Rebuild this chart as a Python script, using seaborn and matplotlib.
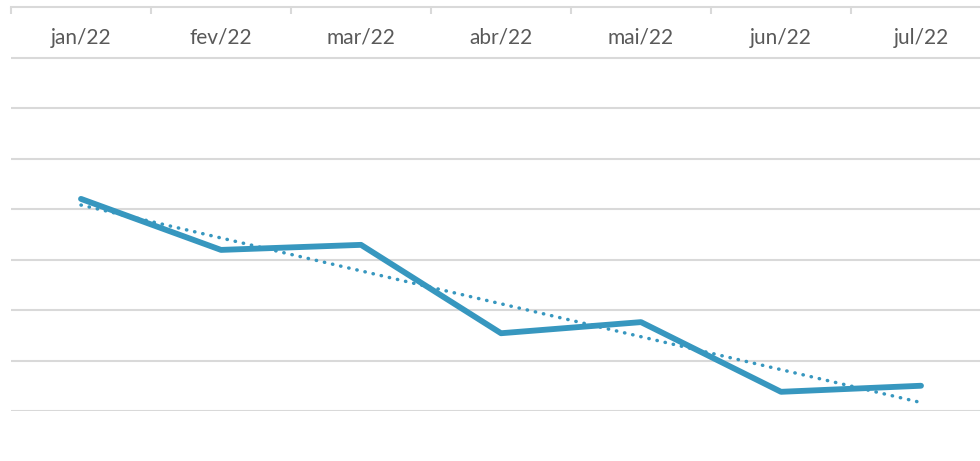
import numpy as np
import pandas as pd
import matplotlib.pyplot as plt
import seaborn as sns

# data (axis sits at the top, values below zero)
months = ['jan/22', 'fev/22', 'mar/22', 'abr/22', 'mai/22', 'jun/22', 'jul/22']
values = [-3.80, -4.81, -4.71, -6.46, -6.24, -7.62, -7.50]

df = pd.DataFrame({'pos': np.arange(len(months)), 'valor': values})

line_color = '#3797BF'
grid_color = '#D9D9D9'

sns.set_style('white')
plt.rcParams['font.family'] = ['Lato', 'DejaVu Sans']

fig = plt.figure(figsize=(9.8, 4.61), dpi=100)
ax = fig.add_axes([11 / 980, 50 / 461, 980 / 980, 404 / 461])

sns.lineplot(data=df, x='pos', y='valor', color=line_color, linewidth=4.2,
             solid_capstyle='round', ax=ax)
sns.regplot(data=df, x='pos', y='valor', scatter=False, ci=None, truncate=True,
            color=line_color,
            line_kws={'linewidth': 2.5, 'linestyle': (0, (0.1, 2.3)),
                      'dash_capstyle': 'round'}, ax=ax)

ax.set_xlim(-0.5, 6.5)
ax.set_ylim(-8, 0)
ax.set_yticks(np.arange(-8, 0, 1))
ax.set_yticklabels([])
ax.tick_params(axis='y', length=0)
ax.grid(axis='y', color=grid_color, linewidth=1.5)
ax.grid(axis='x', visible=False)
ax.set_axisbelow(True)

for side in ['left', 'right', 'bottom']:
    ax.spines[side].set_visible(False)
ax.spines['top'].set_color(grid_color)
ax.spines['top'].set_linewidth(1.5)

ax.xaxis.tick_top()
ax.set_xticks(np.arange(len(months)))
ax.set_xticklabels(months)
ax.set_xticks(np.arange(-0.5, 7, 1), minor=True)
ax.tick_params(axis='x', which='major', length=0, pad=-22, labelsize=15,
               labelcolor='#595959')
ax.tick_params(axis='x', which='minor', direction='in', length=5,
               width=1.5, color=grid_color)
for lbl in ax.get_xticklabels():
    lbl.set_va('center')

ax.set_xlabel('')
ax.set_ylabel('')

fig.savefig('out.png', dpi=100)
